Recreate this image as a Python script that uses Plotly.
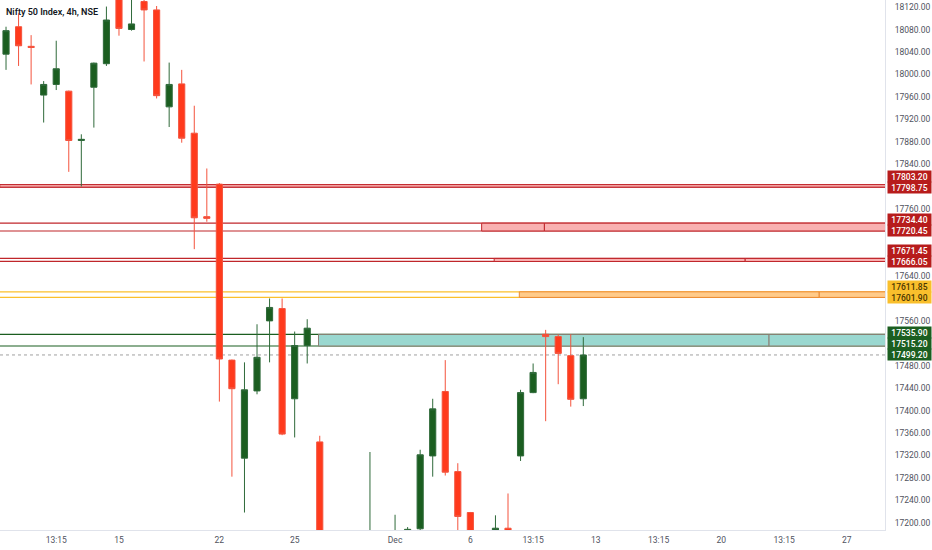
import plotly.graph_objects as go

# 4h bars, Nifty 50 (bar index 0..46)
opens = [18036, 18085, 18050, 17963, 17982, 17970, 17882, 17977, 18019, 18170,
         18080, 18130, 18115, 17942, 17983, 17895, 17746, 17804, 17490, 17315,
         17435, 17560, 17582, 17421, 17516, 17344, 17040, 17055, 16900, 17051,
         17150, 17104, 17160, 17189, 17319, 17434, 17291, 17218, 16950, 17044,
         17190, 17319, 17432, 17536, 17532, 17498, 17421]
highs = [18085, 18109, 18070, 17988, 18060, 17971, 17893, 18021, 18121, 18210,
         18160, 18140, 18122, 18021, 18008, 17944, 17832, 17806, 17491, 17486,
         17554, 17600, 17600, 17541, 17563, 17355, 17120, 17160, 17070, 17326,
         17170, 17214, 17192, 17330, 17421, 17490, 17306, 17219, 17000, 17213,
         17252, 17437, 17484, 17544, 17536, 17536, 17531]
lows = [18008, 18015, 17982, 17914, 17972, 17826, 17800, 17905, 18015, 18069,
        18078, 18023, 17957, 17906, 17878, 17688, 17737, 17416, 17282, 17218,
        17429, 17486, 17356, 17352, 17484, 16985, 16990, 16782, 16880, 17000,
        16931, 16891, 17120, 17184, 17282, 17284, 17180, 16891, 16900, 17003,
        17150, 17310, 17431, 17381, 17447, 17407, 17408]
closes = [18078, 18051, 18048, 17982, 18010, 17882, 17884, 18020, 18097, 18082,
          18090, 18115, 17962, 17982, 17886, 17744, 17743, 17492, 17439, 17437,
          17495, 17584, 17358, 17516, 17547, 17040, 17027, 16900, 17053, 17150,
          16983, 17160, 17188, 17321, 17403, 17290, 17211, 16950, 16912, 17190,
          17176, 17432, 17468, 17532, 17502, 17420, 17499.2]

tick_idx = [4, 9, 17, 23, 31, 37, 42, 47, 52, 57, 62, 67]
tick_text = ["13:15", "15", "22", "25", "Dec", "6", "13:15", "13", "13:15", "20", "13:15", "27"]

price_ticks = [18120, 18080, 18040, 18000, 17960, 17920, 17880, 17840, 17760, 17640,
               17560, 17480, 17440, 17400, 17360, 17320, 17280, 17240, 17200]

# zones: top, bottom, kind, bar where the filled box starts, bar of the box split
zone_top = [17803.20, 17734.40, 17671.45, 17611.85, 17535.90]
zone_bot = [17798.75, 17720.45, 17666.05, 17601.90, 17515.20]
zone_kind = ["red", "red", "red", "orange", "green"]
zone_start = [-0.5, 37.9, 38.9, 40.9, 24.9]
zone_split = [None, 42.9, 58.9, 64.8, 60.8]
last_price = 17499.20

X0, X1 = -0.48, 70.04
Y0, Y1 = 17186.8, 18132.7
PLOT_H = 530

styles = {
    "red": dict(line="#c0262b", left="#c0262b", fill="#f9b1b1", label="#b71c1c", text="white"),
    "orange": dict(line="#ec8a32", left="#fbc02d", fill="#ffcb8a", label="#f9bf2c", text="#4a3500"),
    "green": dict(line="#8c7f74", left="#1b5e20", fill="#9ad8d0", label="#1b5e20", text="white"),
}

fig = go.Figure()

shapes = []
for top, bot, kind, start, split in zip(zone_top, zone_bot, zone_kind, zone_start, zone_split):
    st = styles[kind]
    for lvl in (top, bot):
        shapes.append(dict(type="line", xref="paper", x0=0, x1=1, yref="y", y0=lvl, y1=lvl,
                           line=dict(color=st["left"], width=1.2), layer="below"))
    edges = [start] + ([split] if split is not None else []) + [X1 + 1]
    for a, b in zip(edges[:-1], edges[1:]):
        shapes.append(dict(type="rect", xref="x", x0=a, x1=b, yref="y", y0=bot, y1=top,
                           fillcolor=st["fill"], line=dict(color=st["line"], width=1), layer="below"))

shapes.append(dict(type="line", xref="paper", x0=0, x1=1, yref="y", y0=last_price, y1=last_price,
                   line=dict(color="#a0a0a0", width=1, dash="dot"), layer="below"))

fig.add_trace(go.Candlestick(
    x=list(range(len(opens))), open=opens, high=highs, low=lows, close=closes,
    increasing=dict(line=dict(color="#2f6a3a", width=1), fillcolor="#1b5e20"),
    decreasing=dict(line=dict(color="#f4533d", width=1), fillcolor="#ff3a1c"),
    whiskerwidth=0, showlegend=False, hoverinfo="skip",
))

# price labels on the right axis, stacked upward when they collide
px_per_pt = PLOT_H / (Y1 - Y0)
labels = []
for top, bot, kind in zip(zone_top, zone_bot, zone_kind):
    labels.append((top, kind))
    labels.append((bot, kind))
labels.append((last_price, "green"))
labels.sort(key=lambda t: t[0])

annotations = []
prev = None
for price, kind in labels:
    own = (price - Y0) * px_per_pt
    pos = own if prev is None else max(own, prev + 11)
    prev = pos
    st = styles[kind]
    annotations.append(dict(
        x=1, xref="paper", xanchor="left", xshift=2, y=price, yref="y", yanchor="middle",
        yshift=pos - own, text=f"{price:.2f}", showarrow=False,
        font=dict(family="Roboto, sans-serif", size=8.5, color=st["text"], weight=500),
        bgcolor=st["label"], width=42, height=10, borderpad=0.5,
    ))

annotations.append(dict(
    x=0, xref="paper", xanchor="left", xshift=4, y=1, yref="paper", yanchor="top", yshift=-5,
    text="Nifty 50 Index, 4h, NSE", showarrow=False,
    font=dict(family="Roboto, sans-serif", size=9, color="#131722", weight=600),
))

fig.update_layout(
    width=932, height=550,
    margin=dict(l=0, r=47, t=0, b=20),
    paper_bgcolor="white", plot_bgcolor="white",
    shapes=shapes, annotations=annotations,
    xaxis=dict(range=[X0, X1], rangeslider=dict(visible=False), showgrid=False, zeroline=False,
               tickmode="array", tickvals=tick_idx, ticktext=tick_text, ticks="",
               ticklabelstandoff=2,
               tickfont=dict(family="Roboto, sans-serif", size=8.5, color="#50535e"),
               showline=True, linecolor="#e0e3eb", linewidth=1, mirror=False),
    yaxis=dict(range=[Y0, Y1], side="right", showgrid=False, zeroline=False,
               tickmode="array", tickvals=price_ticks, ticktext=[f"{v:.2f}" for v in price_ticks],
               ticks="", ticklabelstandoff=7,
               tickfont=dict(family="Roboto, sans-serif", size=8.5, color="#50535e"),
               showline=True, linecolor="#e0e3eb", linewidth=1),
)

fig.write_html("out.html", config={"displayModeBar": False},
               post_script="document.body.style.margin='0';document.body.style.overflow='hidden';")
